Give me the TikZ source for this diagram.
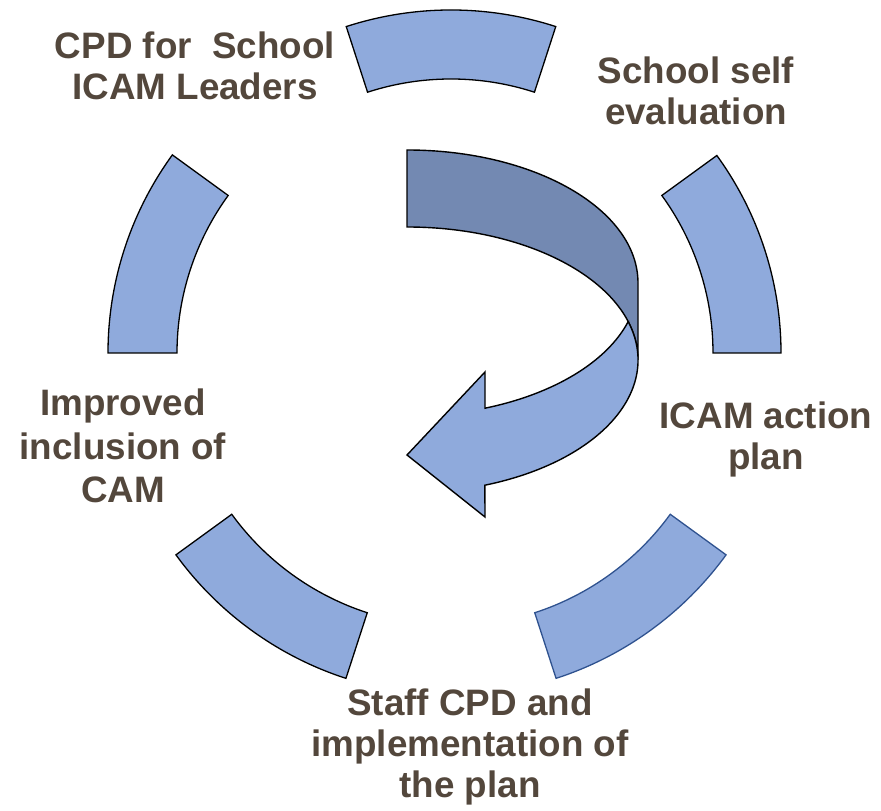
\documentclass[tikz,border=0pt]{standalone}
\usepackage{fontspec}
\setmainfont{Liberation Sans}
\definecolor{segfill}{HTML}{8FAADC}
\definecolor{darkfill}{HTML}{7389B2}
\definecolor{bluestroke}{HTML}{2F528F}
\definecolor{labelcol}{HTML}{53473C}
\tikzset{
  seg/.style={fill=segfill, draw=black, line width=1.3pt, line join=miter},
  segblue/.style={seg, draw=bluestroke},
  arrowpart/.style={draw=black, line width=1.4pt, line join=miter},
  lbl/.style={text=labelcol, font=\fontsize{36.8}{41}\selectfont\bfseries, align=center, anchor=base, inner sep=0pt},
  lblwide/.style={lbl, font=\fontsize{36.8}{43.5}\selectfont\bfseries},
}
\begin{document}
\begin{tikzpicture}[x=1pt, y=1pt]
\useasboundingbox (0,0) rectangle (881,811);
% centres of the ring segments
\coordinate (ctop) at (451,462);
\coordinate (cup) at (445,458);
\coordinate (clow) at (451,456);
% ring segments
\draw[seg] (ctop) ++(72:339) arc[start angle=72, end angle=108, radius=339pt] -- ++(108:-69) arc[start angle=108, end angle=72, radius=270pt] -- cycle;
\draw[seg] (cup) ++(0:336) arc[start angle=0, end angle=36, radius=336pt] -- ++(36:-68) arc[start angle=36, end angle=0, radius=268pt] -- cycle;
\draw[seg] (cup) ++(144:337) arc[start angle=144, end angle=180, radius=337pt] -- ++(180:-69) arc[start angle=180, end angle=144, radius=268pt] -- cycle;
\draw[seg] (clow) ++(216:340) arc[start angle=216, end angle=252, radius=340pt] -- ++(252:-69) arc[start angle=252, end angle=216, radius=271pt] -- cycle;
\draw[segblue] (clow) ++(288:340) arc[start angle=288, end angle=324, radius=340pt] -- ++(324:-69) arc[start angle=324, end angle=288, radius=271pt] -- cycle;
% central twisted arrow
\coordinate (e1) at (407,528);
\coordinate (e2) at (407,451);
\draw[arrowpart, fill=darkfill] (e1) ++(90:133) arc[start angle=90, end angle=0, x radius=231pt, y radius=133pt]
  -- (638,451) arc[start angle=0, end angle=90, x radius=231pt, y radius=133pt] -- cycle;
\draw[arrowpart, fill=segfill] (e2) ++(628.1-407,38.5)
  arc[start angle=16.83, end angle=-70.3, x radius=231pt, y radius=133pt]
  -- (485,294) -- (407,356) -- (485,439) -- (485,402.8)
  arc[start angle=-70.3, end angle=-16.83, x radius=231pt, y radius=133pt] -- cycle;
% labels (anchor base = baseline of the last line)
\node[lbl] (cpd) at (195,711) {CPD for~ School\\ICAM Leaders};
\node[lbl] (self) at (696,686) {School self\\evaluation};
\node[lbl] (action) at (766,341) {ICAM action\\plan};
\node[lbl] (staff) at (470,13) {Staff CPD and\\implementation of\\the plan};
\node[lblwide] (improved) at (123,308) {Improved\\inclusion of\\CAM};
\end{tikzpicture}
\end{document}
